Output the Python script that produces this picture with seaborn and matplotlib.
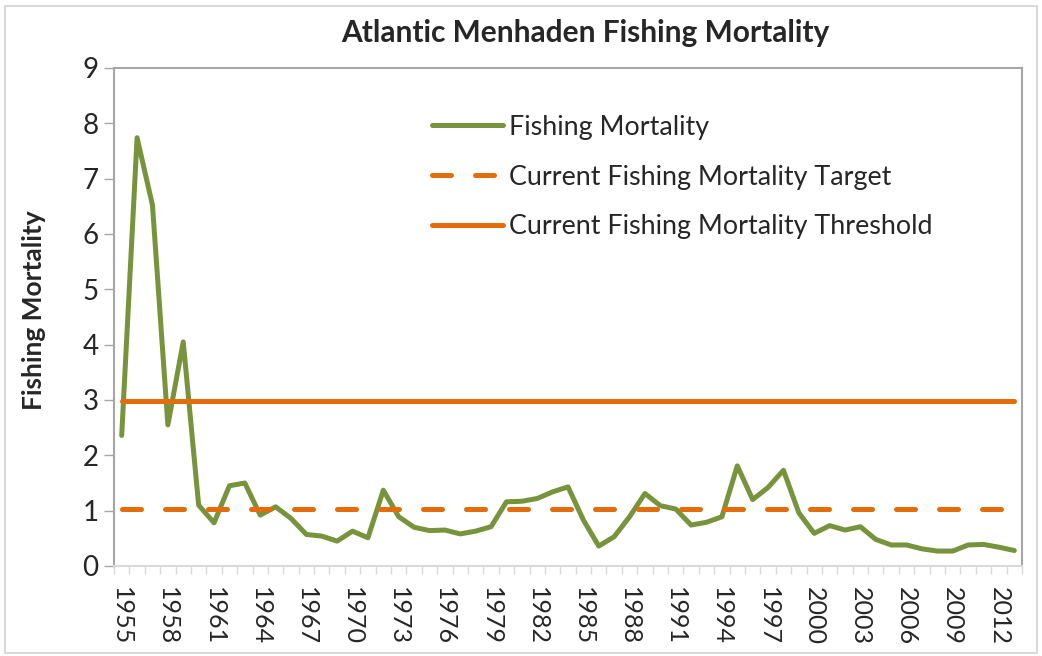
import numpy as np
import pandas as pd
import seaborn as sns
import matplotlib
matplotlib.use("Agg")
import matplotlib.pyplot as plt
from matplotlib.patches import Rectangle

years = list(range(1955, 2014))
fishing_mortality = [2.36, 7.74, 6.52, 2.55, 4.05, 1.10, 0.78, 1.45, 1.50, 0.92,
                     1.07, 0.86, 0.57, 0.54, 0.45, 0.63, 0.51, 1.37, 0.89, 0.70,
                     0.64, 0.65, 0.58, 0.63, 0.71, 1.16, 1.17, 1.22, 1.34, 1.43,
                     0.83, 0.36, 0.53, 0.89, 1.31, 1.09, 1.03, 0.74, 0.79, 0.89,
                     1.81, 1.20, 1.42, 1.73, 0.96, 0.59, 0.73, 0.65, 0.71, 0.48,
                     0.38, 0.38, 0.31, 0.27, 0.27, 0.38, 0.39, 0.34, 0.28]
target_value = 1.03
threshold_value = 2.99
tick_years = list(range(1955, 2014, 3))

sns.set_theme(style="white")
plt.rcParams['font.family'] = ['Lato', 'DejaVu Sans']

df = pd.DataFrame({
    "Year": years * 3,
    "Value": fishing_mortality + [target_value] * len(years) + [threshold_value] * len(years),
    "Series": (["Fishing Mortality"] * len(years)
               + ["Current Fishing Mortality Target"] * len(years)
               + ["Current Fishing Mortality Threshold"] * len(years)),
})

GREEN = "#77933C"
ORANGE = "#E46C0A"

fig = plt.figure(figsize=(10.42, 6.56), dpi=100)
ax = fig.add_axes([114 / 1042, 1 - 566 / 656, 908 / 1042, 498 / 656])

lw = 3.6
for name, color in [("Fishing Mortality", GREEN),
                    ("Current Fishing Mortality Target", ORANGE),
                    ("Current Fishing Mortality Threshold", ORANGE)]:
    sub = df[df["Series"] == name]
    sns.lineplot(data=sub, x="Year", y="Value", ax=ax, color=color, lw=lw,
                 label=name, solid_capstyle="round", dash_capstyle="round",
                 solid_joinstyle="round")

tgt = ax.get_lines()[1]
tgt.set_dashes((3.8, 4.8))

ax.set_xlim(1954.5, 2013.5)
ax.set_ylim(0, 9)
ax.set_yticks(range(0, 10))
ax.set_xticks(tick_years)
ax.set_xticklabels([str(y) for y in tick_years], rotation=-90, fontsize=18)
ax.set_xticks(np.arange(1954.5, 2014, 1.0), minor=True)
ax.tick_params(axis="x", which="major", length=0, pad=15)
ax.tick_params(axis="x", which="minor", length=6, width=1, color="#D9D9D9", direction="out", bottom=True)
ax.tick_params(axis="y", which="major", length=7, width=1, color="#A6A6A6", direction="out", left=True, labelsize=20, pad=4)
ax.set_xlabel("")
ax.set_ylabel("Fishing Mortality", fontsize=19, fontweight="bold")
ax.yaxis.set_label_coords(-0.075, 0.514)

for side, sp in ax.spines.items():
    sp.set_visible(True)
    sp.set_color("#A6A6A6" if side in ("left", "right", "top") else "#D9D9D9")
    sp.set_linewidth(1.5)

fig.text(585 / 1042, 1 - 33 / 656, "Atlantic Menhaden Fishing Mortality", fontsize=21.5,
         fontweight="bold", ha="center", va="center")

leg = ax.legend(loc="upper left", bbox_to_anchor=(0.35, 0.906), frameon=False,
                fontsize=19.4, handlelength=2.65, handletextpad=0.23, labelspacing=0.92,
                borderpad=0, borderaxespad=0)
for h in leg.get_lines():
    h.set_linewidth(lw)
leg.get_lines()[1].set_dashes((3.8, 4.8))

fig.patches.append(Rectangle((5 / 1042, 3 / 656), 1032 / 1042, 647 / 656, transform=fig.transFigure,
                             fill=False, edgecolor="#D9D9D9", lw=1.5))

fig.savefig("out.png", dpi=100)
